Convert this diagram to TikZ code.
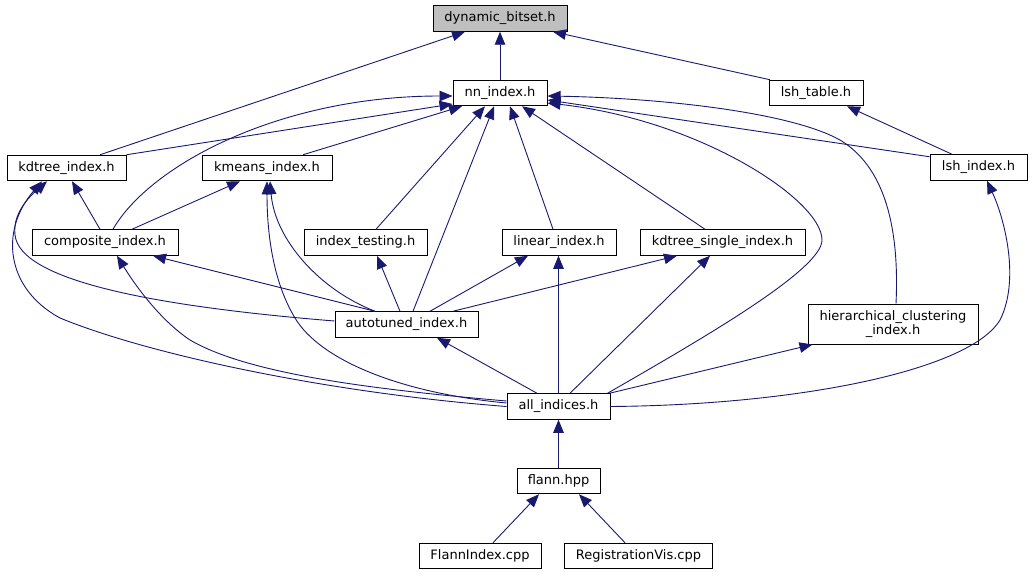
\documentclass[tikz,border=0pt]{standalone}
\usepackage{fontspec}
\setmainfont{DejaVu Sans}
\usetikzlibrary{arrows.meta}
\definecolor{edgec}{HTML}{191970}
\definecolor{rootfill}{HTML}{BFBFBF}
\begin{document}
\begin{tikzpicture}[x=1pt,y=-1pt,
  box/.style={draw=black, fill=white, line width=1pt, inner sep=0pt,
    minimum height=25.5pt, font=\fontsize{13}{13.8}\selectfont,
    text height=9.7pt, text depth=2.8pt},
  e/.style={draw=edgec, line width=0.9pt, -{Triangle[length=13pt,width=10.5pt]}}]
\useasboundingbox (0,0) rectangle (1032,575);
% nodes
\node[box, fill=rootfill, minimum width=134pt] (dyn) at (500,18.5) {dynamic\_bitset.h};
\node[box, minimum width=94pt] (nn) at (500,93) {nn\_index.h};
\node[box, minimum width=94pt] (lsht) at (816,93) {lsh\_table.h};
\node[box, minimum width=119pt] (kdt) at (66.5,168) {kdtree\_index.h};
\node[box, minimum width=130pt] (kmeans) at (267,168) {kmeans\_index.h};
\node[box, minimum width=97pt] (lshi) at (978.5,167.5) {lsh\_index.h};
\node[box, minimum width=146pt] (comp) at (105,242.5) {composite\_index.h};
\node[box, minimum width=123pt] (itest) at (365.5,242.5) {index\_testing.h};
\node[box, minimum width=114pt] (lin) at (559,242.5) {linear\_index.h};
\node[box, minimum width=165pt] (kds) at (722.5,242.5) {kdtree\_single\_index.h};
\node[box, minimum width=143pt] (auto) at (406.5,324.5) {autotuned\_index.h};
\node[box, minimum width=170pt, minimum height=40pt, align=center, text height=, text depth=] (hc) at (893,324) {hierarchical\_clustering\\\_index.h};
\node[box, minimum width=103pt] (all) at (558.5,406.5) {all\_indices.h};
\node[box, minimum width=83pt] (flann) at (558.5,481) {flann.hpp};
\node[box, minimum width=122pt] (fidx) at (480,556) {FlannIndex.cpp};
\node[box, minimum width=148pt] (reg) at (638.5,556) {RegistrationVis.cpp};
% edges to dynamic_bitset
\draw[e] ([xshift=33.5pt]kdt.north) -- ([xshift=-35pt]dyn.south);
\draw[e] (nn.north) -- (dyn.south);
\draw[e] ([xshift=-46pt]lsht.north) -- ([xshift=53pt]dyn.south);
% edges to nn_index
\draw[e] (kdt.north east) -- ([yshift=-11pt]nn.west);
\draw[e] ([xshift=8pt]comp.north) .. controls (150,165) and (280,96) .. ([yshift=-3pt]nn.west);
\draw[e] ([xshift=36pt]kmeans.north) -- ([xshift=-38pt]nn.south);
\draw[e] ([xshift=10.5pt]itest.north) -- ([xshift=-15pt]nn.south);
\draw[e] ([xshift=6.5pt]auto.north) -- ([xshift=-6pt]nn.south);
\draw[e] ([xshift=-6pt]lin.north) -- ([xshift=10pt]nn.south);
\draw[e] ([xshift=-17.5pt]kds.north) -- ([xshift=22pt]nn.south);
\draw[e] ([xshift=-3pt]all.north east) .. controls (700,340) and (822,270) .. (822,240)
   .. controls (822,200) and (700,120) .. ([yshift=-10pt]nn.east);
\draw[e] ([xshift=3pt]hc.north) .. controls (899,240) and (890,170) .. (840,140)
   .. controls (790,112) and (660,98) .. ([yshift=-3pt]nn.east);
\draw[e] ([yshift=-2.5pt]lshi.north west) -- ([yshift=-7pt]nn.east);
% lsh_index -> lsh_table
\draw[e] ([xshift=-26.5pt]lshi.north) -- ([xshift=31pt]lsht.south);
% to kdtree_index
\draw[e] ([xshift=-5pt]comp.north) -- ([xshift=5.5pt]kdt.south);
\draw[e] ([yshift=3.5pt]auto.west) .. controls (150,306) and (20,280) .. (15,235)
   .. controls (12,210) and (35,192) .. ([xshift=-19.5pt]kdt.south);
\draw[e] (all.west) .. controls (330,393) and (150,355) .. (60,318)
   .. controls (5,288) and (0,230) .. ([xshift=-24.5pt]kdt.south);
% to kmeans_index
\draw[e] ([xshift=27pt]comp.north) -- ([xshift=-27pt]kmeans.south);
\draw[e] ([xshift=-31.5pt]auto.north) .. controls (320,290) and (275,240) .. ([xshift=3pt]kmeans.south);
\draw[e] ([yshift=3.5pt]all.west) .. controls (400,393) and (320,360) .. (295,318)
   .. controls (275,285) and (267,240) .. (kmeans.south);
% to composite_index
\draw[e] ([xshift=-31.5pt]auto.north) -- ([xshift=48pt]comp.south);
\draw[e] ([yshift=5.5pt]all.west) .. controls (380,390) and (250,375) .. (190,340)
   .. controls (160,320) and (135,285) .. ([xshift=12pt]comp.south);
% to index_testing, linear, kdtree_single
\draw[e] ([xshift=-6.5pt]auto.north) -- ([xshift=11.5pt]itest.south);
\draw[e] ([xshift=23.5pt]auto.north) -- ([xshift=-31pt]lin.south);
\draw[e] ([xshift=46.5pt]auto.north) -- ([xshift=-45.5pt]kds.south);
\draw[e] (all.north) -- (all.north |- lin.south);
\draw[e] ([xshift=11.5pt]all.north) -- ([xshift=-12.5pt]kds.south);
% to autotuned
\draw[e] ([xshift=-21.5pt]all.north) -- ([xshift=30.5pt]auto.south);
% to hierarchical
\draw[e] ([xshift=-1pt]all.north east) -- ([xshift=5pt]hc.south west);
% to lsh_index
\draw[e] (all.east) .. controls (800,405) and (970,370) .. (1000,320)
   .. controls (1020,280) and (1005,220) .. ([xshift=8.5pt]lshi.south);
% to all_indices
\draw[e] (flann.north) -- (all.south);
% to flann
\draw[e] ([xshift=13pt]fidx.north) -- ([xshift=-19.5pt]flann.south);
\draw[e] ([xshift=-13.5pt]reg.north) -- ([xshift=20.5pt]flann.south);
\end{tikzpicture}
\end{document}
